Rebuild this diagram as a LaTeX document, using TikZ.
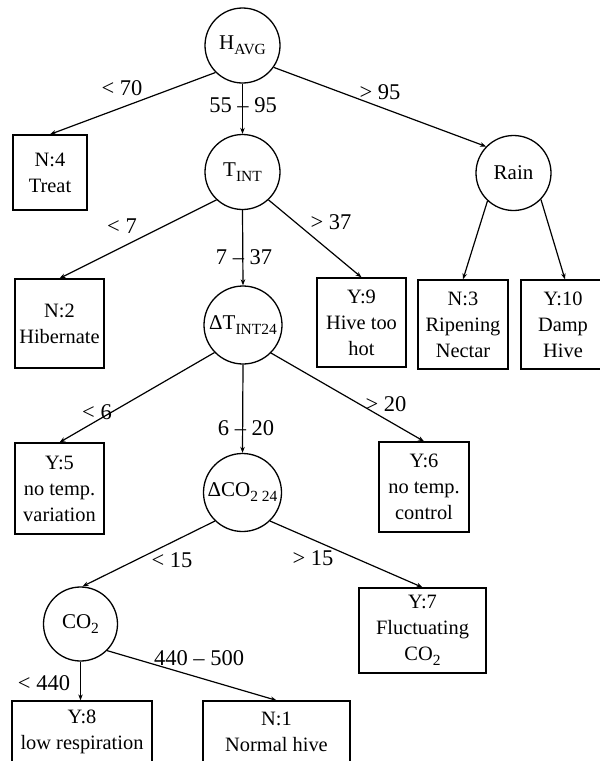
\documentclass[tikz,border=0pt]{standalone}
\usepackage{fontspec}
\setmainfont{Liberation Serif}
\usetikzlibrary{arrows.meta}
\newcommand\lowsub[1]{\raisebox{-5pt}{\fontsize{15.5}{16}\selectfont #1}}
\tikzset{
  decision/.style={circle, draw, line width=1.3pt, inner sep=0pt, minimum size=75pt,
    font=\fontsize{21}{25}\selectfont},
  leaf/.style={rectangle, draw, line width=1.3pt, inner sep=0pt, align=center,
    font=\fontsize{20.4}{26}\selectfont},
  cond/.style={inner sep=0pt, anchor=center, font=\fontsize{22.5}{26}\selectfont},
  conn/.style={line width=1.2pt, -{Stealth[length=6pt,width=4.5pt]}}
}
\begin{document}
\begin{tikzpicture}[x=1pt,y=-1pt]
\useasboundingbox (0,0) rectangle (600,761);
\clip (0,0) rectangle (600,761);
\fill[white] (0,0) rectangle (600,761);
% decision nodes
\node[decision] (H) at (242.5,45.5) {\makebox[0pt]{H\lowsub{AVG}}};
\node[decision] (T) at (242.5,172) {\makebox[0pt]{T\lowsub{INT}}};
\node[decision] (rain) at (513.5,173) {\makebox[0pt]{Rain}};
\node[decision, minimum size=78pt] (dT) at (243,325) {\makebox[0pt]{ΔT\lowsub{INT24}}};
\node[decision, minimum size=78pt] (dC) at (242.5,492.5) {\makebox[0pt]{ΔCO\lowsub{2 24}}};
\node[decision, minimum size=74pt] (co2) at (80.5,624) {\makebox[0pt]{CO\lowsub{2}}};
% leaves
\node[leaf, minimum width=74pt, minimum height=75pt] (n4) at (50,172.5) {N:4\\Treat};
\node[leaf, minimum width=89pt, minimum height=89pt] (n2) at (59.5,323.5) {N:2\\Hibernate};
\node[leaf, minimum width=89pt, minimum height=89pt] (y9) at (361.5,322.5) {Y:9\\Hive too\\hot};
\node[leaf, minimum width=90pt, minimum height=89pt] (n3) at (463,324.5) {N:3\\Ripening\\Nectar};
\node[leaf, minimum width=84pt, minimum height=89pt] (y10) at (563,324.5) {Y:10\\Damp\\Hive};
\node[leaf, minimum width=89pt, minimum height=91pt] (y5) at (59.5,488.5) {Y:5\\no temp.\\variation};
\node[leaf, minimum width=90pt, minimum height=90pt] (y6) at (424,487) {Y:6\\no temp.\\control};
\node[leaf, minimum width=127pt, minimum height=85pt] (y7) at (422.5,630.5) {Y:7\\Fluctuating\\CO\lowsub{2}};
\node[leaf, minimum width=140pt, minimum height=62pt] (y8) at (82,732) {Y:8\\low respiration};
\node[leaf, minimum width=147pt, minimum height=62pt] (n1) at (276.5,732) {N:1\\Normal hive};
% connectors
\draw[conn] (H.-135) -- (n4.north);
\draw[conn] (H.south) -- (T.north);
\draw[conn] (H.-35) -- (rain.136);
\draw[conn] (T.-133) -- (n2.north);
\draw[conn] (T.south) -- (dT.north);
\draw[conn] (T.-47) -- (y9.north);
\draw[conn] (rain.-133) -- (n3.north);
\draw[conn] (rain.-44) -- ([xshift=2pt]y10.north);
\draw[conn] (dT.-136) -- (y5.north);
\draw[conn] (dT.south) -- (dC.north);
\draw[conn] (dT.-45) -- (y6.north);
\draw[conn] (dC.-134) -- (co2.87);
\draw[conn] (dC.-46) -- (y7.north);
\draw[conn] (co2.south) -- (co2.south |- y8.north);
\draw[conn] (co2.-45) -- (n1.north);
% condition labels
\node[cond] (l1) at (122,88) {< 70};
\node[cond] (l2) at (243,105) {55 – 95};
\node[cond] (l3) at (380,92) {> 95};
\node[cond] (l4) at (122,226) {< 7};
\node[cond] (l5) at (244,257) {7 – 37};
\node[cond] (l6) at (331,222) {> 37};
\node[cond] (l7) at (97,412) {< 6};
\node[cond] (l8) at (246,428) {6 – 20};
\node[cond] (l9) at (386,404) {> 20};
\node[cond] (l10) at (172,560) {< 15};
\node[cond] (l11) at (313,558) {> 15};
\node[cond] (l12) at (44,683) {< 440};
\node[cond] (l13) at (199,658) {440 – 500};
\end{tikzpicture}
\end{document}
